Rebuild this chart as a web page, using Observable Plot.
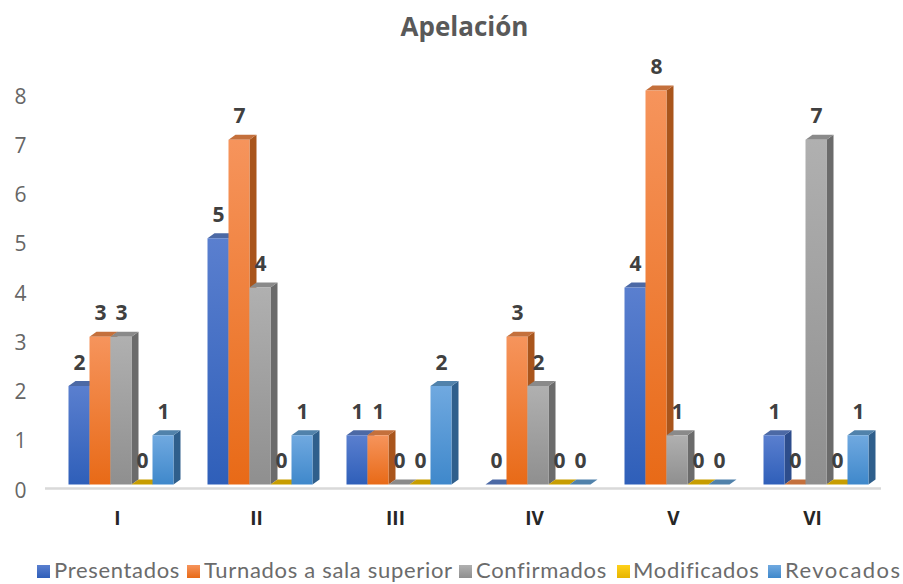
<!DOCTYPE html>
<html><head><meta charset="utf-8">
<script src="https://cdn.jsdelivr.net/npm/d3@7"></script>
<script src="https://cdn.jsdelivr.net/npm/@observablehq/plot@0.6"></script>
<style>
html,body{margin:0;padding:0;background:#fff;width:903px;height:584px;overflow:hidden;font-family:"Open Sans",sans-serif}
#title{height:50px;text-align:center;font:700 26px/53px "Open Sans",sans-serif;color:#595959;padding-left:26px}
#legend{position:absolute;left:0;top:555px;height:29px;width:903px;font:400 22px/30px Lato,sans-serif;letter-spacing:.68px;color:#6b6b6b}
#legend span{position:absolute;top:0;white-space:nowrap}
#legend span:last-child{letter-spacing:1.4px}
#legend i{position:absolute;top:10px;width:13px;height:13px}
</style></head><body>
<div id="title">Apelación</div>
<div id="chart"></div>
<div id="legend"></div>
<script>
const groups = ["I","II","III","IV","V","VI"];
const seriesNames = ["Presentados","Turnados a sala superior","Confirmados","Modificados","Revocados"];
const presentados = [2,5,1,0,4,1];
const turnados = [3,7,1,3,8,0];
const confirmados = [3,4,0,2,1,7];
const modificados = [0,0,0,0,0,0];
const revocados = [1,1,2,0,0,1];
const seriesValues = [presentados,turnados,confirmados,modificados,revocados];
const yTicks = [0,1,2,3,4,5,6,7,8];
const gradTop = ["#5a7fcf","#f6945c","#b0b0b0","#ffd11a","#70a9e0"];
const gradBottom = ["#2f5fb9","#e86a17","#8f8f8f","#e6b400","#3f88cb"];
const sideColors = ["#2d4d8c","#a9551c","#6b6b6b","#a88400","#2f5f8c"];
const topColors = ["#4c69a5","#c4703c","#8a8a8a","#c79d00","#5182ab"];
const legendX = [[37,54],[187,204],[459,476],[617,633],[768,785]];

const rows = groups.flatMap((g,gi)=>seriesNames.map((s,si)=>({group:g,series:s,si,value:seriesValues[si][gi]})));
const depthX = 7, depthY = 5;
const ns="http://www.w3.org/2000/svg";

const defs = () => {
  const d=document.createElementNS(ns,"defs");
  gradTop.forEach((c,i)=>{
    const g=document.createElementNS(ns,"linearGradient");
    g.setAttribute("id","grad"+i);g.setAttribute("x1","0");g.setAttribute("y1","0");g.setAttribute("x2","0");g.setAttribute("y2","1");
    [[0,c],[1,gradBottom[i]]].forEach(([o,col])=>{
      const st=document.createElementNS(ns,"stop");st.setAttribute("offset",o);st.setAttribute("stop-color",col);g.appendChild(st);
    });
    d.appendChild(g);
  });
  return d;
};

function render3d(index, scales, values, dims, ctx, next){
  const g = next(index, scales, values, dims, ctx);
  const rects=[...g.querySelectorAll("rect")];
  rects.forEach((r,k)=>{
    const row=rows[index[k]];
    const x=+r.getAttribute("x"),y=+r.getAttribute("y"),w=+r.getAttribute("width"),h=+r.getAttribute("height");
    const parent=r.parentNode;
    const add=(pts,col)=>{const p=document.createElementNS(ns,"polygon");
      p.setAttribute("points",pts.map(q=>q.join(",")).join(" "));p.setAttribute("fill",col);parent.insertBefore(p,r);};
    if(h>0) add([[x+w,y],[x+w+depthX,y-depthY],[x+w+depthX,y+h-depthY],[x+w,y+h]],sideColors[row.si]);
    add([[x,y],[x+depthX,y-depthY],[x+w+depthX,y-depthY],[x+w,y]],topColors[row.si]);
  });
  return g;
}

const plot = Plot.plot({
  width:903,height:490,marginTop:40.5,marginBottom:55.5,marginLeft:66.5,marginRight:33.5,
  style:{background:"transparent",overflow:"visible"},
  fx:{domain:groups,paddingInner:0.231,paddingOuter:0,label:null},
  x:{domain:seriesNames,padding:0,label:null,axis:null},
  y:{domain:[0,8],label:null,axis:null},
  color:{domain:seriesNames,range:seriesNames.map((_,i)=>`url(#grad${i})`)},
  marks:[
    defs,
    Plot.barY(rows,{fx:"group",x:"series",y:"value",fill:"series",render:render3d}),
    Plot.text(rows,{fx:"group",x:"series",y:"value",text:d=>String(d.value),dy:-23.5,fontSize:21,fontWeight:700,fill:"#404040",fontFamily:"Open Sans"}),
    Plot.axisY({ticks:yTicks,tickSize:0,tickFormat:d=>d,anchor:"left",dy:6,dx:-38,fontSize:21,fill:"#666",fontFamily:"Open Sans",label:null,textAnchor:"middle"}),
    Plot.axisFx({anchor:"bottom",tickSize:0,tickPadding:26,dx:-3.5,fontSize:19,fontWeight:700,fill:"#262626",fontFamily:"Open Sans",label:null})
  ]
});
// floor line placed with the plot's own y scale
const floorLine=document.createElementNS(ns,"line");
const floorY=plot.scale("y").apply(0)+4;
floorLine.setAttribute("x1",45);floorLine.setAttribute("x2",881);
floorLine.setAttribute("y1",floorY);floorLine.setAttribute("y2",floorY);
floorLine.setAttribute("stroke","#d9d9d9");floorLine.setAttribute("stroke-width",2.5);
plot.insertBefore(floorLine,plot.firstChild);
document.getElementById("chart").appendChild(plot);
const lg=document.getElementById("legend");
seriesNames.forEach((s,i)=>{
  const sw=document.createElement("i");sw.style.left=legendX[i][0]+"px";sw.style.background=`linear-gradient(${gradTop[i]},${gradBottom[i]})`;lg.appendChild(sw);
  const t=document.createElement("span");t.style.left=legendX[i][1]+"px";t.textContent=s;lg.appendChild(t);
});
</script>
</body></html>
